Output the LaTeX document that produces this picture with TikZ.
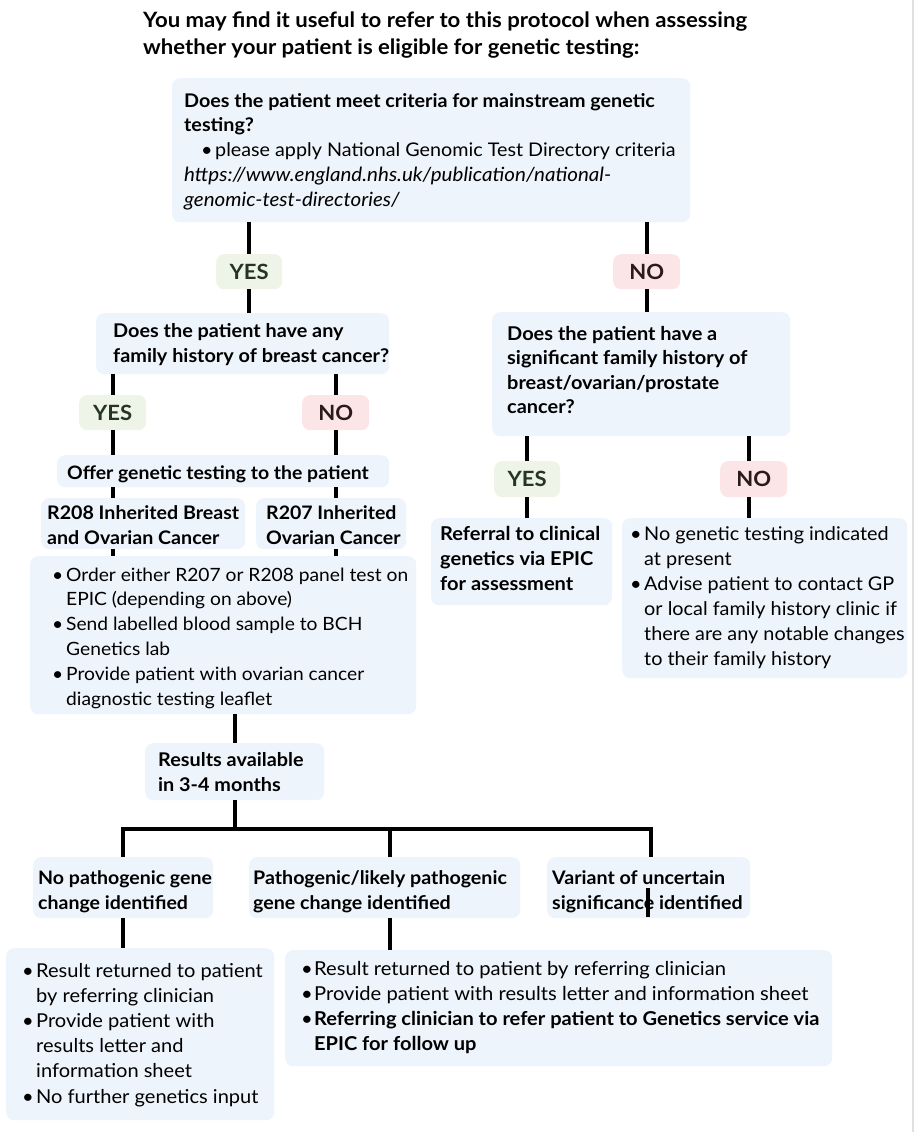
\documentclass[tikz,border=0pt]{standalone}
\usepackage{fontspec}
\setmainfont{Lato}[FakeStretch=1.05]
\definecolor{boxblue}{HTML}{EEF4FB}
\definecolor{yesfill}{HTML}{EEF5E8}
\definecolor{nofill}{HTML}{FBE5E7}
\definecolor{yestext}{HTML}{263426}
\definecolor{notext}{HTML}{2A1A1C}
\newcommand{\bul}[1]{\makebox[#1][l]{•}}
\newcommand{\fs}[2]{\fontsize{#1}{#2}\selectfont}
\begin{document}
\begin{tikzpicture}[x=1pt,y=-1pt,
  box/.style={fill=boxblue, rounded corners=8pt, inner sep=0pt, anchor=north west},
  yesbox/.style={fill=yesfill, rounded corners=8pt, inner sep=0pt, anchor=north west, text=yestext, font=\fs{21}{21}\bfseries, minimum width=66pt, minimum height=35pt},
  nobox/.style={yesbox, fill=nofill, text=notext},
  txt/.style={inner sep=0pt, anchor=base west},
  conn/.style={line width=4.2pt, black},
]
\useasboundingbox (0,0) rectangle (916,1132);
\fill[white] (0,0) rectangle (916,1132);
\draw[line width=2pt, black!12] (913,0) -- (913,1132);

% title
\node[txt, font=\fs{21.1}{27}\bfseries] (title) at (143,28)
  {\begin{tabular}[t]{@{}l@{}}You may find it useful to refer to this protocol when assessing\\ whether your patient is eligible for genetic testing:\end{tabular}};

% boxes
\node[box, minimum width=518pt, minimum height=144pt] (q1) at (172,78) {};
\node[yesbox] (yes1) at (216,254) {YES};
\node[nobox, minimum width=67pt] (no1) at (613,254) {NO};
\node[box, minimum width=293pt, minimum height=61pt] (q2) at (96,313) {};
\node[yesbox, minimum width=67pt] (yes2) at (79,395) {YES};
\node[nobox, minimum width=67pt] (no2) at (302,395) {NO};
\node[box, minimum width=332pt, minimum height=32pt] (offer) at (57,455) {};
\node[box, minimum width=204pt, minimum height=51pt] (r208) at (41,498) {};
\node[box, minimum width=150pt, minimum height=51pt] (r207) at (256,498) {};
\node[box, minimum width=386pt, minimum height=158pt] (big) at (30,556) {};
\node[box, minimum width=179pt, minimum height=57pt] (results) at (145,743) {};
\node[box, minimum width=180pt, minimum height=61pt] (nopath) at (33,857) {};
\node[box, minimum width=271pt, minimum height=61pt] (path) at (249,857) {};
\node[box, minimum width=203pt, minimum height=61pt] (vus) at (547,857) {};
\node[box, minimum width=268pt, minimum height=172pt] (bl) at (6,948) {};
\node[box, minimum width=547pt, minimum height=116pt] (br) at (285,950) {};
\node[box, minimum width=298pt, minimum height=124pt] (q3) at (492,312) {};
\node[yesbox, minimum height=36pt] (yes3) at (494,461) {YES};
\node[nobox, minimum width=67pt, minimum height=36pt] (no3) at (720,461) {NO};
\node[box, minimum width=181pt, minimum height=87pt] (referral) at (431,518) {};
\node[box, minimum width=285pt, minimum height=160pt] (nolist) at (622,518) {};

% texts
\node[txt, font=\fs{19}{24.8}] (q1t) at (184,107) {\begin{tabular}[t]{@{}l@{}}
 \fs{18.8}{24.8}\bfseries Does the patient meet criteria for mainstream genetic\\
 \fs{18.8}{24.8}\bfseries testing?\\
 \fs{18.8}{24.8}\hspace{17pt}\bul{14pt}please apply National Genomic Test Directory criteria\\
 \fs{19.6}{24.8}\itshape https://www.england.nhs.uk/publication/national-\\
 \fs{19.6}{24.8}\itshape genomic-test-directories/\end{tabular}};
\node[txt, font=\fs{18.9}{25}\bfseries] (q2t) at (113,337) {\begin{tabular}[t]{@{}l@{}}Does the patient have any\\ family history of breast cancer?\end{tabular}};
\node[txt, font=\fs{18.5}{25}\bfseries] (offert) at (67,479) {Offer genetic testing to the patient};
\node[txt, font=\fs{18.7}{25}\bfseries] (r208t) at (47,519) {\begin{tabular}[t]{@{}l@{}}R208 Inherited Breast\\ and Ovarian Cancer\end{tabular}};
\node[txt, font=\fs{18.6}{25}\bfseries] (r207t) at (266,519) {\begin{tabular}[t]{@{}l@{}}R207 Inherited\\ Ovarian Cancer\end{tabular}};
\node[txt, font=\fs{18.3}{24.8}] (bigt) at (52,581) {\begin{tabular}[t]{@{}l@{}l@{}}
 \bul{14pt} & Order either R207 or R208 panel test on\\
  & EPIC (depending on above)\\
 \bul{14pt} & Send labelled blood sample to BCH\\
  & Genetics lab\\
 \bul{14pt} & Provide patient with ovarian cancer\\
  & diagnostic testing leaflet\end{tabular}};
\node[txt, font=\fs{18.9}{25}\bfseries] (resultst) at (158,766) {\begin{tabular}[t]{@{}l@{}}Results available\\ in 3-4 months\end{tabular}};
\node[txt, font=\fs{18.6}{25}\bfseries] (nopatht) at (38,884) {\begin{tabular}[t]{@{}l@{}}No pathogenic gene\\ change identified\end{tabular}};
\node[txt, font=\fs{18.7}{25}\bfseries] (patht) at (253,884) {\begin{tabular}[t]{@{}l@{}}Pathogenic/likely pathogenic\\ gene change identified\end{tabular}};
\node[txt, font=\fs{18.7}{25}\bfseries] (vust) at (552,884) {\begin{tabular}[t]{@{}l@{}}Variant of uncertain\\ significance identified\end{tabular}};
\node[txt, font=\fs{19.1}{25.2}] (blt) at (22,977) {\begin{tabular}[t]{@{}l@{}l@{}}
 \bul{14pt} & Result returned to patient\\
  & by referring clinician\\
 \bul{14pt} & Provide patient with\\
  & results letter and\\
  & information sheet\\
 \bul{14pt} & No further genetics input\end{tabular}};
\node[txt, font=\fs{19.2}{25}] (brt) at (301,975) {\begin{tabular}[t]{@{}l@{}l@{}}
 \bul{13pt} & Result returned to patient by referring clinician\\
 \bul{13pt} & Provide patient with results letter and information sheet\\
 \bul{13pt} & \fs{19.1}{25}\bfseries Referring clinician to refer patient to Genetics service via\\
  & \fs{19.1}{25}\bfseries EPIC for follow up\end{tabular}};
\node[txt, font=\fs{19}{24.6}\bfseries] (q3t) at (507,340) {\begin{tabular}[t]{@{}l@{}}Does the patient have a\\ significant family history of\\ breast/ovarian/prostate\\ cancer?\end{tabular}};
\node[txt, font=\fs{19.1}{25}\bfseries] (referralt) at (440,540) {\begin{tabular}[t]{@{}l@{}}Referral to clinical\\ genetics via EPIC\\ for assessment\end{tabular}};
\node[txt, font=\fs{18.9}{25.1}] (nolistt) at (630,540) {\begin{tabular}[t]{@{}l@{}l@{}}
 \bul{14pt} & No genetic testing indicated\\
  & at present\\
 \bul{14pt} & Advise patient to contact GP\\
  & or local family history clinic if\\
  & there are any notable changes\\
  & to their family history\end{tabular}};

% connectors
\draw[conn] (q1.south -| yes1.north) -- (yes1.north);
\draw[conn] (yes1.south) -- (yes1.south |- q2.north);
\draw[conn] (q1.south -| no1.north) -- (no1.north);
\draw[conn] (no1.south) -- (no1.south |- q3.north);
\draw[conn] (q2.south -| yes2.north) -- (yes2.north);
\draw[conn] (yes2.south) -- (yes2.south |- offer.north);
\draw[conn] (q2.south -| no2.north) -- (no2.north);
\draw[conn] (no2.south) -- (no2.south |- offer.north);
\draw[conn] (offer.south -| yes2.south) -- (r208.north -| yes2.south);
\draw[conn] (offer.south -| no2.south) -- (r207.north -| no2.south);
\draw[conn] (r208.south -| yes2.south) -- (big.north -| yes2.south);
\draw[conn] (r207.south -| no2.south) -- (big.north -| no2.south);
\draw[conn] (big.south -| results.north) -- (results.north);
\coordinate (bar) at (237,829);
\coordinate (ptop) at ([xshift=5pt]path.north);
\coordinate (pbot) at ([xshift=5pt]path.south);
\coordinate (vtop) at ([xshift=2pt]vus.north);
\draw[conn] (results.south) -- (results.south |- bar);
\draw[conn] (nopath.north) -- (nopath.north |- bar) -- (vtop |- bar) -- (vtop);
\draw[conn] (ptop) -- (ptop |- bar);
\draw[conn] (vtop) ++(-3,31) -- ++(0,29);
\draw[conn] (nopath.south) -- (nopath.south |- bl.north);
\draw[conn] (pbot) -- (pbot |- br.north);
\draw[conn] (q3.south -| yes3.north) -- (yes3.north);
\draw[conn] (yes3.south) -- (yes3.south |- referral.north);
\coordinate (nt) at ([xshift=-5pt]no3.north);
\coordinate (nb) at ([xshift=-5pt]no3.south);
\draw[conn] (q3.south -| nt) -- (nt);
\draw[conn] (nb) -- (nb |- nolist.north);
\end{tikzpicture}
\end{document}
